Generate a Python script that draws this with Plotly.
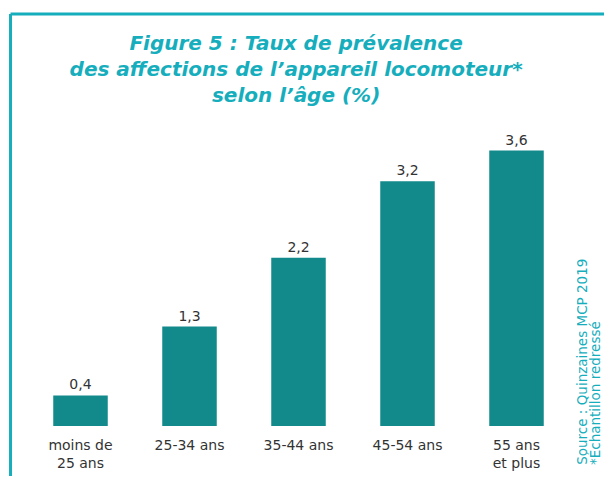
import plotly.graph_objects as go

# Age groups and prevalence rates (%)
categories = ["moins de<br>25 ans", "25-34 ans", "35-44 ans", "45-54 ans", "55 ans<br>et plus"]
values = [0.4, 1.3, 2.2, 3.2, 3.6]
value_labels = ["0,4", "1,3", "2,2", "3,2", "3,6"]
source_lines = ["Source : Quinzaines MCP 2019", "*Échantillon redressé"]

TEAL = "#128a8c"
CYAN = "#16aebd"
TEXT = "#333333"

fig = go.Figure()

fig.add_trace(go.Bar(
    x=categories,
    y=values,
    text=value_labels,
    textposition="outside",
    textfont=dict(family="DejaVu Sans", size=14, color=TEXT),
    marker=dict(color=TEAL, line=dict(width=0)),
    cliponaxis=False,
    hoverinfo="skip",
))

# Frame along top and left edges
fig.add_shape(type="line", xref="paper", yref="paper",
              x0=-0.0284, x1=1.1, y0=1.3464, y1=1.3464,
              line=dict(color=CYAN, width=3))
fig.add_shape(type="line", xref="paper", yref="paper",
              x0=-0.0284, x1=-0.0284, y0=1.3464, y1=-0.25,
              line=dict(color=CYAN, width=3))

# Source note, rotated on the right (one annotation per line for tight spacing)
for line, xpos in zip(source_lines, [1.0202, 1.0445]):
    fig.add_annotation(
        text=line,
        xref="paper", yref="paper", x=xpos, y=-0.13,
        xanchor="center", yanchor="bottom", textangle=-90,
        showarrow=False, borderpad=0,
        font=dict(family="DejaVu Sans", size=13.5, color=CYAN),
    )

fig.update_layout(
    title=dict(
        text="Figure 5 : Taux de prévalence<br>des affections de l’appareil locomoteur*<br>selon l’âge (%)",
        x=0.4834, xanchor="center", y=0.91, yanchor="middle",
        font=dict(family="DejaVu Sans", size=20, color=CYAN, weight="bold", style="italic"),
    ),
    width=596,
    height=468,
    margin=dict(l=18, r=33, t=112, b=50),
    bargap=0.5,
    showlegend=False,
    plot_bgcolor="white",
    paper_bgcolor="white",
)

fig.update_xaxes(
    showline=False, showgrid=False, ticks="",
    ticklabelstandoff=9, automargin=False,
    tickfont=dict(family="DejaVu Sans", size=14, color=TEXT),
)
fig.update_yaxes(range=[0, 4], visible=False, showgrid=False, automargin=False)

fig.write_html("out.html")
